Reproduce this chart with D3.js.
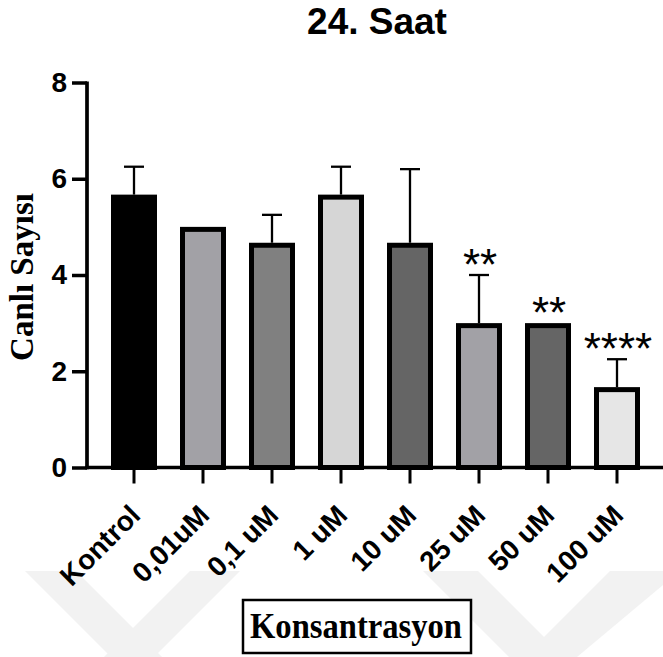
<!DOCTYPE html>
<html>
<head>
<meta charset="utf-8">
<script src="https://cdn.jsdelivr.net/npm/d3@7"></script>
<style>
  html, body { margin: 0; padding: 0; background: #fff; }
  svg { display: block; }
</style>
</head>
<body>
<svg id="chart" width="663" height="657"></svg>
<script>
// ---- data ----
const categories = ["Kontrol", "0,01uM", "0,1 uM", "1 uM", "10 uM", "25 uM", "50 uM", "100 uM"];
const means = [5.67, 5.0, 4.67, 5.67, 4.67, 3.0, 3.0, 1.67];
const sds = [0.58, 0, 0.58, 0.58, 1.53, 1.0, 0, 0.58];
const stars = ["", "", "", "", "", "**", "**", "****"];
const yTicks = [0, 2, 4, 6, 8];
const title = "24. Saat";
const yTitle = "Canlı Sayısı";
const xTitle = "Konsantrasyon";

// ---- style ----
const fills = ["#000000", "#a2a1a6", "#808080", "#d6d6d6", "#656565", "#a2a1a6", "#656565", "#e6e6e6"];
const SANS = "'Liberation Sans', Arial, sans-serif";
const SERIF = "'Liberation Serif', 'Times New Roman', serif";

const svg = d3.select("#chart");

// faint background watermark
const wm = svg.append("g").attr("fill", "#f2f2f2");
[
  [[25,571],[76,571],[162,657],[111,657]],
  [[190,571],[240,571],[154,657],[104,657]],
  [[423,571],[478,571],[564,657],[509,657]],
  [[610,571],[663,571],[663,585],[577,657],[524,657]]
].forEach(p => wm.append("polygon").attr("points", p.map(d => d.join(",")).join(" ")));

const y = d3.scaleLinear().domain([0, 8]).range([467.5, 82.5]);
const x = d3.scaleBand().domain(categories).range([99.5, 651.5])
  .paddingInner(1/3).paddingOuter(1/6);

const BORDER = 5;
const data = categories.map((c, i) => ({ c, m: means[i], sd: sds[i], s: stars[i], f: fills[i] }));

// bars
svg.append("g").selectAll("rect").data(data).join("rect")
  .attr("x", d => x(d.c) + BORDER / 2)
  .attr("width", x.bandwidth() - BORDER)
  .attr("y", d => y(d.m) + BORDER / 2)
  .attr("height", d => y(0) - y(d.m) - BORDER / 2)
  .attr("fill", d => d.f)
  .attr("stroke", "#000")
  .attr("stroke-width", BORDER);

// error bars (upper only)
const eb = svg.append("g").attr("stroke", "#000").attr("stroke-width", 2.3);
data.filter(d => d.sd > 0).forEach(d => {
  const cx = x(d.c) + x.bandwidth() / 2;
  eb.append("line").attr("x1", cx).attr("x2", cx).attr("y1", y(d.m)).attr("y2", y(d.m + d.sd));
  eb.append("line").attr("x1", cx - 10).attr("x2", cx + 10).attr("y1", y(d.m + d.sd)).attr("y2", y(d.m + d.sd));
});

// significance stars
svg.append("g").selectAll("text").data(data.filter(d => d.s)).join("text")
  .attr("x", d => x(d.c) + x.bandwidth() / 2 + 1)
  .attr("y", d => y(d.m + d.sd) + 5)
  .attr("text-anchor", "middle")
  .attr("font-family", SANS)
  .attr("font-size", 44)
  .attr("fill", "#000")
  .text(d => d.s);

// y axis
const yAxis = svg.append("g").attr("transform", "translate(87,0)")
  .call(d3.axisLeft(y).tickValues(yTicks).tickSize(15).tickSizeOuter(0).tickPadding(5).tickFormat(d3.format("d")));
yAxis.select(".domain").attr("stroke-width", 3.7).attr("d", `M0,${y(8) - 1}V${y(0) + 1.8}`);
yAxis.selectAll(".tick line").attr("stroke-width", 3.5);
yAxis.selectAll(".tick text")
  .attr("font-family", SANS).attr("font-weight", "bold").attr("font-size", 28).attr("fill", "#000");

// x axis
const xAxis = svg.append("g").attr("transform", `translate(0,${y(0)})`)
  .call(d3.axisBottom(x).tickSize(16).tickSizeOuter(0));
xAxis.select(".domain").remove();
xAxis.selectAll(".tick line").attr("stroke-width", 3);
xAxis.selectAll(".tick text").remove();
svg.append("line").attr("x1", 85.3).attr("x2", 663).attr("y1", y(0)).attr("y2", y(0))
  .attr("stroke", "#000").attr("stroke-width", 3.7);

// x category labels
svg.append("g").selectAll("text").data(categories).join("text")
  .attr("transform", c => `translate(${x(c) + x.bandwidth() / 2 + 8},517) rotate(-45)`)
  .attr("text-anchor", "end")
  .attr("font-family", SANS).attr("font-weight", "bold").attr("font-size", 28)
  .attr("fill", "#000")
  .text(c => c);

// title
svg.append("text").attr("x", 377).attr("y", 34).attr("text-anchor", "middle")
  .attr("font-family", SANS).attr("font-weight", "bold").attr("font-size", 37)
  .text(title);

// y title
svg.append("text").attr("transform", "translate(33,277) rotate(-90)")
  .attr("text-anchor", "middle")
  .attr("font-family", SERIF).attr("font-weight", "bold").attr("font-size", 33)
  .text(yTitle);

// x title in box
svg.append("rect").attr("x", 243).attr("y", 600).attr("width", 228).attr("height", 53)
  .attr("fill", "#fff").attr("stroke", "#000").attr("stroke-width", 2.5);
svg.append("text").attr("x", 356).attr("y", 638).attr("text-anchor", "middle")
  .attr("font-family", SERIF).attr("font-weight", "bold").attr("font-size", 35)
  .attr("textLength", 212).attr("lengthAdjust", "spacingAndGlyphs")
  .text(xTitle);
</script>
</body>
</html>
